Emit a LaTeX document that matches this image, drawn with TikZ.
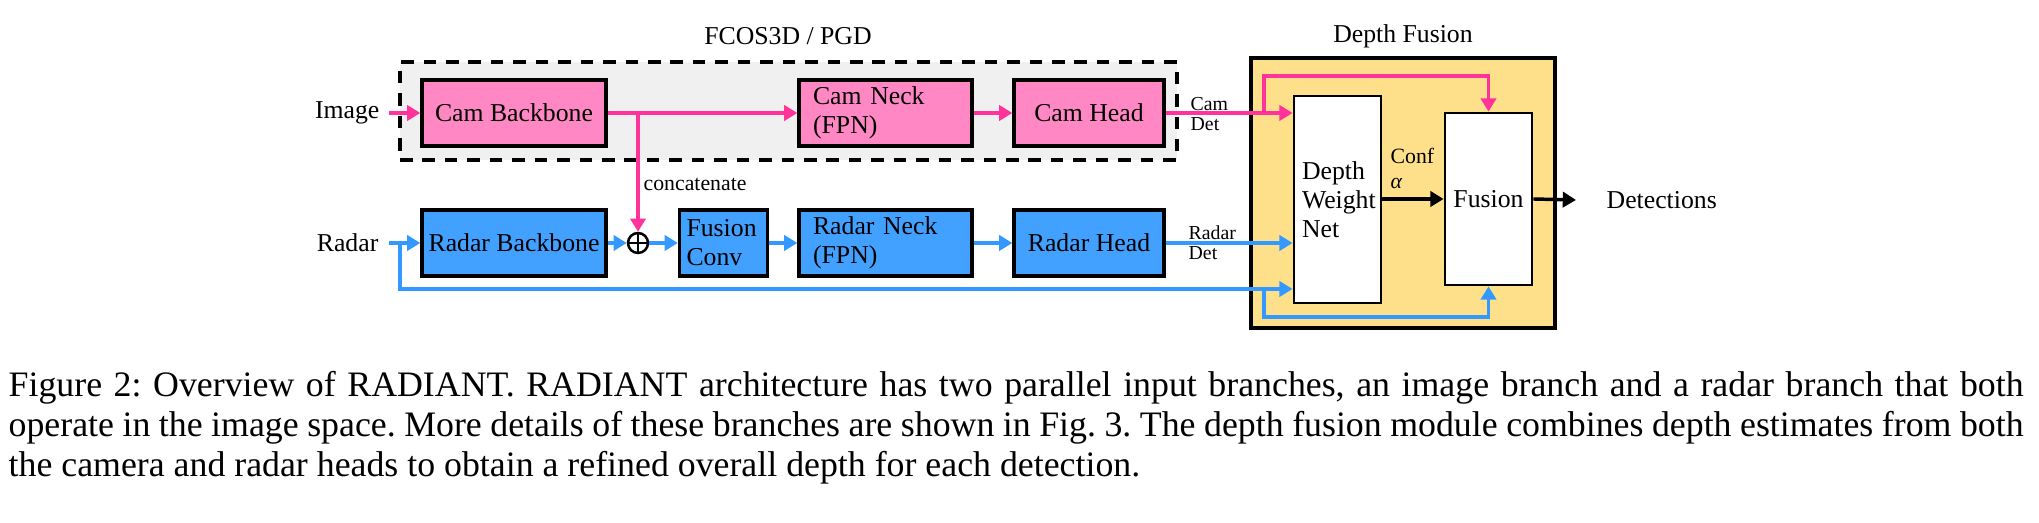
\documentclass[tikz,border=0pt]{standalone}
\usepackage{fontspec}
\setmainfont{Liberation Serif}
\usetikzlibrary{arrows.meta}
\definecolor{pinkfill}{RGB}{255,136,196}
\definecolor{pinkline}{RGB}{255,51,153}
\definecolor{bluefill}{RGB}{66,160,255}
\definecolor{blueline}{RGB}{51,153,255}
\definecolor{goldfill}{RGB}{255,224,138}
\definecolor{grayfill}{RGB}{240,240,240}
\frenchspacing
\begin{document}
\begin{tikzpicture}[x=0.303pt,y=-0.303pt,
  lbl/.style={font=\rmfamily\fontsize{7.8}{8.8}\selectfont, inner sep=0pt},
  smalltxt/.style={font=\rmfamily\fontsize{6}{6.1}\selectfont, inner sep=0pt, align=left},
  sz/.style 2 args={minimum width=#1*0.303pt, minimum height=#2*0.303pt},
  blk/.style={draw=black, line width=1pt, font=\rmfamily\fontsize{7.8}{8.8}\selectfont, inner sep=0pt},
  lblk/.style={blk, align=left, inner xsep=#1*0.303pt},
  pinkbox/.style={fill=pinkfill},
  bluebox/.style={fill=bluefill},
  tip/.style={-{Triangle[length=4pt,width=4.6pt]}},
  parr/.style={draw=pinkline, line width=1.05pt, tip},
  barr/.style={draw=blueline, line width=1.05pt, tip},
  karr/.style={draw=black, line width=1.05pt, tip},
  captxt/.style={anchor=base west, inner sep=0pt, font=\rmfamily\fontsize{10.85}{12}\selectfont}
]
\useasboundingbox (0,0) rectangle (2039,523);

% dashed group
\node[draw=black, dash pattern=on 3.8pt off 3pt, line width=1.05pt, fill=grayfill, sz={777}{98}] (grp) at (788.5,111) {};
\node[lbl] (grpt) at (788,36) {FCOS3D / PGD};

% depth fusion group
\node[draw=black, line width=1pt, fill=goldfill, sz={304}{270}] (df) at (1403,193) {};
\node[lbl] (dft) at (1403,36) {Depth Fusion};

% labels
\node[lbl, anchor=east] (img) at (380,113) {Image};
\node[lbl, anchor=east] (rad) at (379,243) {Radar};

% camera branch
\node[blk, pinkbox, sz={184}{66}] (cb) at (514,113) {Cam Backbone};
\node[lblk=14, pinkbox, sz={173}{66}, text width=43.9pt] (cn) at (885.5,113) {Cam Neck\\(FPN)};
\node[blk, pinkbox, sz={150}{66}] (ch) at (1089,113) {Cam Head};

% radar branch
\node[blk, bluebox, sz={184}{66}] (rb) at (514,243) {Radar Backbone};
\node[draw=black, line width=0.75pt, circle, minimum size=20*0.303pt, inner sep=0pt] (op) at (638,243) {};
\draw[line width=0.75pt] (op.north) -- (op.south) (op.west) -- (op.east);
\node[lblk=7, bluebox, sz={87}{66}, text width=22.4pt] (fc) at (723.5,243) {Fusion\\Conv};
\node[lblk=14, bluebox, sz={173}{66}, text width=43.9pt] (rn) at (885.5,243) {Radar Neck\\(FPN)};
\node[blk, bluebox, sz={150}{66}] (rh) at (1089,243) {Radar Head};

% depth fusion internals
\node[lblk=8, fill=white, sz={87}{207}, text width=21.5pt, line width=0.85pt] (dwn) at (1337.5,199.5) {Depth\\Weight\\Net};
\node[blk, fill=white, sz={87}{172}, line width=0.85pt] (fu) at (1488.5,199) {Fusion};
\node[lbl, anchor=west] (det) at (1606,200) {Detections};

% coordinates
\coordinate (imgin) at (389,113);
\coordinate (radin) at (389,243);
\coordinate (tap) at (638,113);
\coordinate (loopa) at (400,243);
\coordinate (camb) at (1264,113);
\coordinate (radb) at (1264,289);
\coordinate (outend) at (1576,200);

% camera connectors
\draw[parr] (imgin) -- (cb.west);
\draw[parr] (cb.east) -- (cn.west);
\draw[parr] (tap) -- (op.north);
\draw[parr] (cn.east) -- (ch.west);
\draw[parr] (ch.east) -- (ch.east -| dwn.west);
\draw[parr] (camb) |- (fu.north |- 0,76) -- (fu.north);

% radar connectors
\draw[barr] (radin) -- (rb.west);
\draw[barr] (rb.east) -- (op.west);
\draw[barr] (op.east) -- (fc.west);
\draw[barr] (fc.east) -- (rn.west);
\draw[barr] (rn.east) -- (rh.west);
\draw[barr] (rh.east) -- (rh.east -| dwn.west);
\draw[barr] (loopa) |- (dwn.west |- 0,289);
\draw[barr] (radb) |- (fu.south |- 0,317) -- (fu.south);

% fusion connectors
\draw[karr] (dwn.east |- fu.west) -- (fu.west);
\draw[karr] (fu.east) -- (outend);

% small labels
\node[font=\rmfamily\fontsize{6.6}{7}\selectfont, inner sep=0pt, anchor=base west] (concat) at (643,191) {concatenate};
\node[smalltxt, anchor=west] (camdet) at (1190,114) {Cam\\Det};
\node[smalltxt, anchor=west] (raddet) at (1188,243) {Radar\\Det};
\node[font=\rmfamily\fontsize{6.6}{7.6}\selectfont, inner sep=0pt, align=left, anchor=west] (conf) at (1390,168) {Conf\\\textit{α}};

% caption
\node[captxt] (cap1) at (8,397) {\makebox[610.5pt][s]{Figure 2: Overview of RADIANT. RADIANT architecture has two parallel input branches, an image branch and a radar branch that both}};
\node[captxt] (cap2) at (8,437) {\makebox[610.5pt][s]{operate in the image space. More details of these branches are shown in Fig. 3. The depth fusion module combines depth estimates from both}};
\node[captxt] (cap3) at (8,477) {the camera and radar heads to obtain a refined overall depth for each detection.};
\end{tikzpicture}
\end{document}
